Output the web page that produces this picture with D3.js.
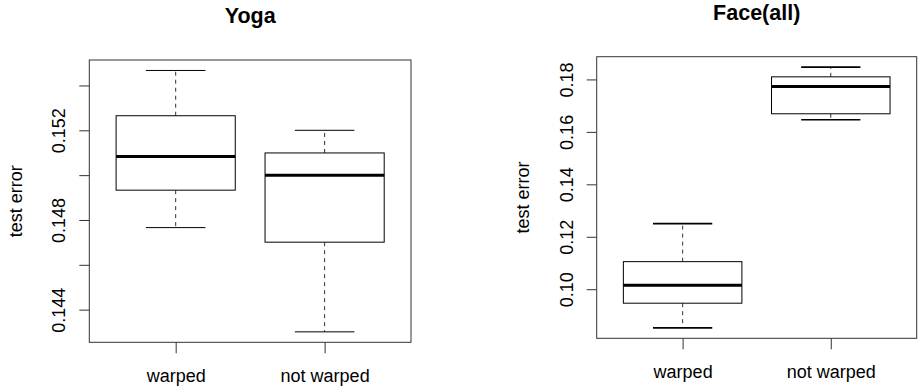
<!DOCTYPE html>
<html>
<head>
<meta charset="utf-8">
<script src="https://cdn.jsdelivr.net/npm/d3@7"></script>
<style>
  html, body { margin: 0; padding: 0; background: #fff; }
  svg { display: block; }
  text { font-family: "Liberation Sans", Arial, Helvetica, sans-serif; fill: #000; }
</style>
</head>
<body>
<svg id="chart" width="918" height="388"></svg>
<script>
// ---- data ----
const categories = ["warped", "not warped"];
const panelTitles = ["Yoga", "Face(all)"];
// five-number summaries: [lower whisker, Q1, median, Q3, upper whisker]
const yogaWarped    = [0.14766, 0.14933, 0.15083, 0.15265, 0.15467];
const yogaNotWarped = [0.14301, 0.14701, 0.15000, 0.15099, 0.15200];
const faceWarped    = [0.08526, 0.09467, 0.10152, 0.11051, 0.12500];
const faceNotWarped = [0.16461, 0.16690, 0.17733, 0.18099, 0.18469];
const yogaTicks = [0.144, 0.146, 0.148, 0.150, 0.152, 0.154];
const yogaTickLabels = ["0.144", "", "0.148", "", "0.152", ""];
const faceTicks = [0.10, 0.12, 0.14, 0.16, 0.18];
const faceTickLabels = ["0.10", "0.12", "0.14", "0.16", "0.18"];
const yLabel = "test error";

const panels = [
  { title: panelTitles[0], boxes: [yogaWarped, yogaNotWarped], ticks: yogaTicks, labels: yogaTickLabels,
    x0: 89.3, x1: 411, y0: 60, y1: 342.3, capW: 1 },
  { title: panelTitles[1], boxes: [faceWarped, faceNotWarped], ticks: faceTicks, labels: faceTickLabels,
    x0: 596.7, x1: 916.7, y0: 56.7, y1: 338.3, capW: 1.6 }
];

const svg = d3.select("#chart");

panels.forEach(p => {
  const g = svg.append("g");
  const lo = d3.min(p.boxes, b => b[0]);
  const hi = d3.max(p.boxes, b => b[4]);
  const pad = (hi - lo) * 0.04;
  const y = d3.scaleLinear().domain([lo - pad, hi + pad]).range([p.y1, p.y0]);
  const x = d3.scaleLinear().domain([0.42, 2.58]).range([p.x0, p.x1]);
  const halfW = (x(1.4) - x(1));
  const capHalf = halfW / 2;

  // frame
  g.append("rect")
    .attr("x", p.x0).attr("y", p.y0)
    .attr("width", p.x1 - p.x0).attr("height", p.y1 - p.y0)
    .attr("fill", "none").attr("stroke", "#333").attr("stroke-width", 1);

  // y axis
  const yAxis = d3.axisLeft(y).tickValues(p.ticks).tickSize(10).tickPadding(0)
    .tickFormat((d, i) => p.labels[i]);
  const ya = g.append("g").attr("transform", `translate(${p.x0 - 0},0)`).call(yAxis);
  ya.select(".domain").remove();
  ya.selectAll(".tick line").attr("stroke", "#333");
  ya.selectAll(".tick text")
    .attr("x", null).attr("dy", null)
    .attr("transform", "translate(-24,0) rotate(-90)")
    .attr("text-anchor", "middle")
    .attr("font-size", 18)
    .attr("fill", "#000");

  // x axis
  const xAxis = d3.axisBottom(x).tickValues([1, 2]).tickSize(11).tickPadding(0)
    .tickFormat((d, i) => categories[i]);
  const xa = g.append("g").attr("transform", `translate(0,${p.y1})`).call(xAxis);
  xa.select(".domain").remove();
  xa.selectAll(".tick line").attr("stroke", "#333");
  xa.selectAll(".tick text")
    .attr("y", 39.5).attr("dy", null)
    .attr("font-size", 18).attr("fill", "#000");

  // y label
  g.append("text")
    .attr("transform", `translate(${p.x0 - 67.6},${(p.y0 + p.y1) / 2}) rotate(-90)`)
    .attr("text-anchor", "middle").attr("font-size", 18)
    .text(yLabel);

  // title
  g.append("text")
    .attr("x", (p.x0 + p.x1) / 2).attr("y", p.y0 - 37)
    .attr("text-anchor", "middle").attr("font-size", 21.5).attr("font-weight", "bold")
    .text(p.title);

  // boxes
  p.boxes.forEach((b, i) => {
    const cx = x(i + 1);
    const bg = g.append("g");
    // whiskers (dashed)
    bg.append("line").attr("x1", cx).attr("x2", cx).attr("y1", y(b[3])).attr("y2", y(b[4]))
      .attr("stroke", "#333").attr("stroke-width", 1).attr("stroke-dasharray", "4,4");
    bg.append("line").attr("x1", cx).attr("x2", cx).attr("y1", y(b[1])).attr("y2", y(b[0]))
      .attr("stroke", "#333").attr("stroke-width", 1).attr("stroke-dasharray", "4,4");
    // caps
    [b[0], b[4]].forEach(v => {
      bg.append("line").attr("x1", cx - capHalf).attr("x2", cx + capHalf)
        .attr("y1", y(v)).attr("y2", y(v))
        .attr("stroke", "#000").attr("stroke-width", p.capW);
    });
    // box
    bg.append("rect")
      .attr("x", cx - halfW).attr("y", y(b[3]))
      .attr("width", 2 * halfW).attr("height", y(b[1]) - y(b[3]))
      .attr("fill", "#fff").attr("stroke", "#000").attr("stroke-width", 1);
    // median
    bg.append("line").attr("x1", cx - halfW).attr("x2", cx + halfW)
      .attr("y1", y(b[2])).attr("y2", y(b[2]))
      .attr("stroke", "#000").attr("stroke-width", 3);
  });
});
</script>
</body>
</html>
